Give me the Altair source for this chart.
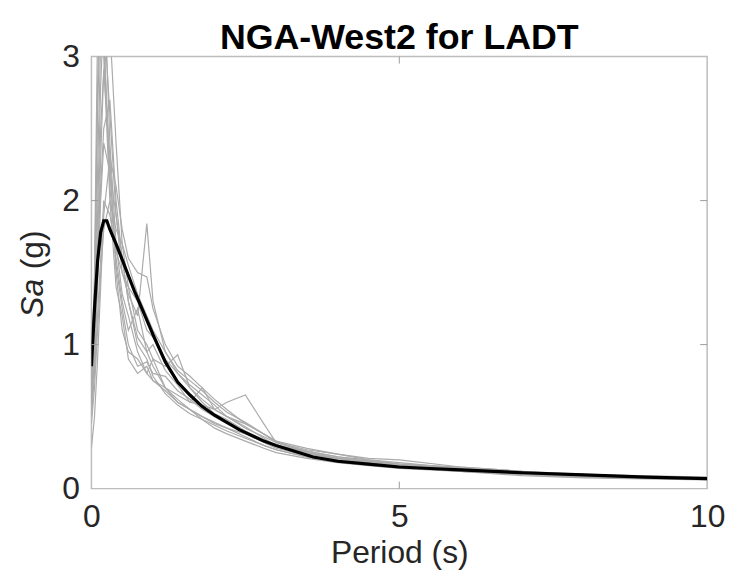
import altair as alt
import pandas as pd

# ---------------- data ----------------
PERIODS = [0, 0.05, 0.1, 0.15, 0.2, 0.3, 0.4, 0.5, 0.6, 0.75, 0.9, 1.0, 1.2, 1.4,
           1.6, 1.8, 2.0, 2.2, 2.5, 2.8, 3.0, 3.5, 4.0, 4.5, 5.0, 6.0, 7.0, 8.0, 10.0]

REC_01 = [0.62, 1.30, 2.60, 3.40, 3.10, 2.20, 1.60, 1.30, 1.10, 1.25, 0.95, 0.85, 0.70, 0.62, 0.55, 0.50, 0.45, 0.42, 0.36, 0.30, 0.27, 0.22, 0.19, 0.17, 0.15, 0.13, 0.11, 0.095, 0.07]
REC_02 = [0.70, 1.10, 1.90, 2.80, 3.30, 2.60, 1.90, 1.50, 1.35, 1.20, 1.84, 1.30, 0.95, 0.80, 0.70, 0.62, 0.55, 0.50, 0.43, 0.35, 0.30, 0.25, 0.20, 0.18, 0.16, 0.13, 0.10, 0.085, 0.065]
REC_03 = [0.55, 0.90, 1.50, 2.30, 2.90, 3.20, 2.40, 1.70, 1.40, 1.10, 1.00, 0.90, 0.85, 0.93, 0.70, 0.60, 0.52, 0.48, 0.40, 0.33, 0.30, 0.26, 0.22, 0.19, 0.17, 0.14, 0.11, 0.09, 0.07]
REC_04 = [0.28, 0.50, 0.90, 1.40, 1.90, 2.30, 2.10, 1.80, 1.60, 1.50, 1.47, 1.25, 1.00, 0.85, 0.78, 0.70, 0.62, 0.55, 0.45, 0.38, 0.32, 0.25, 0.21, 0.19, 0.16, 0.13, 0.10, 0.08, 0.065]
REC_05 = [0.75, 1.40, 2.80, 3.50, 3.00, 2.00, 1.40, 1.20, 0.90, 0.80, 0.85, 0.75, 0.70, 0.65, 0.60, 0.58, 0.55, 0.60, 0.65, 0.45, 0.32, 0.26, 0.22, 0.20, 0.17, 0.15, 0.12, 0.09, 0.07]
REC_06 = [0.60, 0.95, 1.60, 2.10, 2.50, 2.70, 2.00, 1.60, 1.30, 1.05, 0.95, 1.00, 0.82, 0.72, 0.60, 0.70, 0.55, 0.50, 0.45, 0.38, 0.33, 0.28, 0.24, 0.21, 0.20, 0.15, 0.12, 0.10, 0.08]
REC_07 = [0.50, 0.80, 1.20, 1.60, 2.00, 1.90, 1.65, 1.50, 1.40, 1.30, 1.10, 1.05, 0.90, 0.80, 0.72, 0.65, 0.58, 0.50, 0.42, 0.36, 0.32, 0.27, 0.24, 0.20, 0.18, 0.14, 0.11, 0.09, 0.07]
REC_08 = [0.68, 1.20, 2.20, 3.10, 3.60, 2.40, 1.70, 1.35, 1.20, 0.95, 0.80, 0.75, 0.68, 0.60, 0.55, 0.50, 0.46, 0.42, 0.38, 0.32, 0.28, 0.23, 0.20, 0.17, 0.15, 0.12, 0.10, 0.08, 0.065]
REC_09 = [0.65, 1.00, 1.70, 2.50, 2.90, 2.30, 1.50, 1.10, 0.95, 0.90, 0.80, 0.90, 0.70, 0.60, 0.55, 0.48, 0.42, 0.38, 0.33, 0.28, 0.25, 0.21, 0.18, 0.16, 0.14, 0.12, 0.09, 0.075, 0.06]
REC_10 = [0.72, 1.50, 3.20, 3.60, 3.20, 2.10, 1.55, 1.25, 1.00, 0.85, 0.88, 0.80, 0.78, 0.68, 0.62, 0.55, 0.50, 0.45, 0.40, 0.34, 0.29, 0.24, 0.21, 0.18, 0.16, 0.13, 0.10, 0.085, 0.065]
REC_11 = [0.45, 0.70, 1.10, 1.50, 1.80, 2.00, 1.80, 1.70, 1.55, 1.35, 1.20, 1.10, 0.95, 0.82, 0.75, 0.68, 0.60, 0.53, 0.46, 0.38, 0.33, 0.25, 0.21, 0.19, 0.17, 0.14, 0.11, 0.09, 0.07]
REC_12 = [0.58, 0.90, 1.40, 2.00, 2.40, 2.20, 1.90, 1.60, 1.30, 1.00, 0.90, 0.78, 0.66, 0.58, 0.52, 0.48, 0.44, 0.40, 0.35, 0.30, 0.27, 0.22, 0.19, 0.17, 0.15, 0.12, 0.10, 0.08, 0.065]
RECORDS = [REC_01, REC_02, REC_03, REC_04, REC_05, REC_06,
           REC_07, REC_08, REC_09, REC_10, REC_11, REC_12]

TARGET_PERIODS = [0, 0.05, 0.1, 0.15, 0.2, 0.25, 0.3, 0.4, 0.5, 0.6, 0.7, 0.8, 0.9, 1.0,
                  1.2, 1.4, 1.6, 1.8, 2.0, 2.2, 2.4, 2.6, 2.8, 3.0, 3.3, 3.6, 4.0, 4.5,
                  5.0, 5.5, 6.0, 7.0, 8.0, 9.0, 10.0]
TARGET_SA = [0.85, 1.25, 1.58, 1.78, 1.86, 1.86, 1.80, 1.70, 1.59, 1.48, 1.37, 1.27, 1.17, 1.07,
             0.88, 0.74, 0.65, 0.57, 0.51, 0.46, 0.41, 0.37, 0.33, 0.30, 0.26, 0.22, 0.19, 0.17,
             0.15, 0.14, 0.13, 0.11, 0.095, 0.08, 0.07]

X_TICKS = [0, 5, 10]
Y_TICKS = [0, 1, 2, 3]
X_INNER = [5]
Y_INNER = [1, 2]

# ---------------- tables ----------------
rows = []
for i, rec in enumerate(RECORDS):
    for t, s in zip(PERIODS, rec):
        rows.append({"T": t, "Sa": s, "rec": f"r{i+1}"})
gm = pd.DataFrame(rows)
target = pd.DataFrame({"T": TARGET_PERIODS, "Sa": TARGET_SA})
xin = pd.DataFrame({"v": X_INNER})
yin = pd.DataFrame({"v": Y_INNER})

W, H = 620, 435
FONT = "Liberation Sans"
TXT = "#262626"

xscale = alt.Scale(domain=[0, 10], nice=False, zero=False)
yscale = alt.Scale(domain=[0, 3], nice=False)

xaxis = alt.Axis(values=X_TICKS, format="d", title="Period (s)", labelFlush=False,
                 labelOverlap=False, labelPadding=13, titlePadding=5,
                 domain=False, ticks=False, grid=False,
                 labelFont=FONT, labelFontSize=32, labelColor=TXT,
                 titleFont=FONT, titleFontSize=32, titleFontWeight="normal", titleColor=TXT)
yaxis = alt.Axis(values=Y_TICKS, format="d", title=None, labelFlush=False,
                 labelOverlap=False, labelPadding=12,
                 domain=False, ticks=False, grid=False,
                 labelFont=FONT, labelFontSize=32, labelColor=TXT)

gray = alt.Chart(gm).mark_line(color="#ababab", strokeWidth=1.2, clip=True).encode(
    x=alt.X("T:Q", scale=xscale, axis=xaxis),
    y=alt.Y("Sa:Q", scale=yscale, axis=yaxis),
    detail="rec:N",
)

black = alt.Chart(target).mark_line(color="#000000", strokeWidth=3.2, clip=True).encode(
    x=alt.X("T:Q", scale=xscale),
    y=alt.Y("Sa:Q", scale=yscale),
)

TICK = "#9a9a9a"
tb = alt.Chart(xin).mark_rule(color=TICK, strokeWidth=1).encode(
    x=alt.X("v:Q", scale=xscale), y=alt.value(H), y2=alt.value(H - 7))
tt = alt.Chart(xin).mark_rule(color=TICK, strokeWidth=1).encode(
    x=alt.X("v:Q", scale=xscale), y=alt.value(0), y2=alt.value(7))
tl = alt.Chart(yin).mark_rule(color=TICK, strokeWidth=1).encode(
    y=alt.Y("v:Q", scale=yscale), x=alt.value(0), x2=alt.value(7))
tr = alt.Chart(yin).mark_rule(color=TICK, strokeWidth=1).encode(
    y=alt.Y("v:Q", scale=yscale), x=alt.value(W), x2=alt.value(W - 7))

lab = pd.DataFrame({"a": ["Sa"], "b": ["(g)"]})
ytitle_a = alt.Chart(lab).mark_text(font=FONT, fontSize=32, fontStyle="italic", color=TXT,
                                    angle=270, align="left", baseline="alphabetic").encode(
    text="a:N", x=alt.value(-49), y=alt.value(263))
ytitle_b = alt.Chart(lab).mark_text(font=FONT, fontSize=32, color=TXT,
                                    angle=270, align="right", baseline="alphabetic").encode(
    text="b:N", x=alt.value(-49), y=alt.value(175))

chart = alt.layer(gray, black, tb, tt, tl, tr, ytitle_a, ytitle_b).properties(
    width=W, height=H,
    background="white",
    title=alt.TitleParams("NGA-West2 for LADT", fontSize=36, fontWeight="bold", font=FONT,
                          color="#000000", anchor="middle", offset=6, dy=22),
    autosize=alt.AutoSizeParams(type="none"),
    padding={"left": 84, "top": 47, "right": 22, "bottom": 82},
).configure_view(
    stroke="#bdbdbd", strokeWidth=1.5
)

chart.save("out.html", embed_options={"renderer": "svg", "actions": False})
